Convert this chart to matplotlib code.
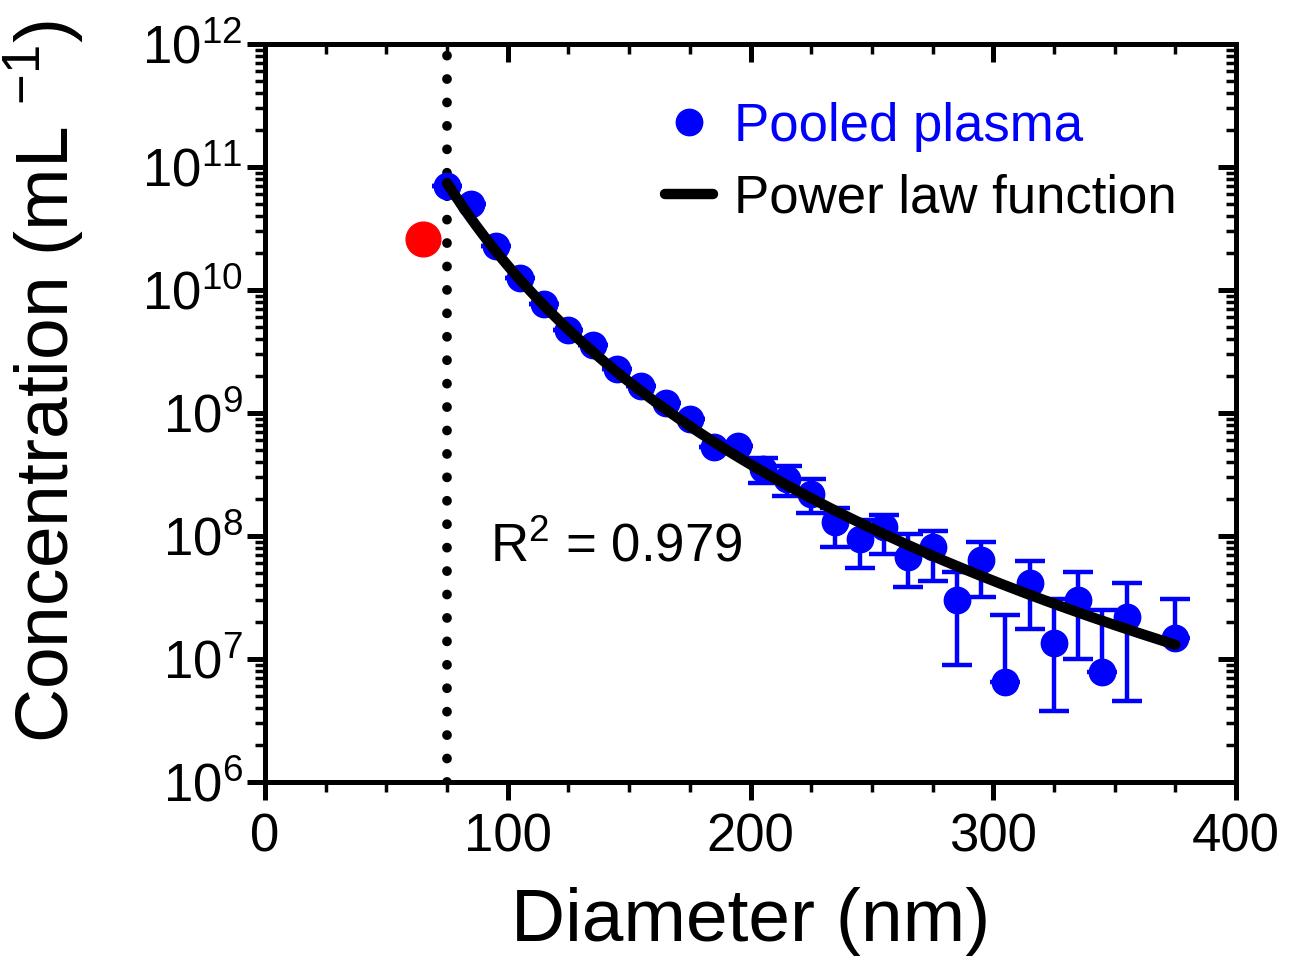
import matplotlib
matplotlib.use('Agg')
import matplotlib.pyplot as plt
import numpy as np
from matplotlib.lines import Line2D
from matplotlib.ticker import MultipleLocator, LogLocator, NullFormatter

plt.rcParams['font.family'] = ['Liberation Sans', 'DejaVu Sans']
plt.rcParams['mathtext.fontset'] = 'custom'
plt.rcParams['mathtext.rm'] = 'Liberation Sans'

# pooled plasma
diameter = [75, 85, 95, 105, 115, 125, 135, 145, 155, 165, 175, 185, 195, 205, 215,
            225, 235, 245, 255, 265, 275, 285, 295, 305, 315, 325, 335, 345, 355, 375]
conc = [7.0e10, 5.0e10, 2.3e10, 1.25e10, 7.7e9, 4.7e9, 3.6e9, 2.3e9, 1.66e9, 1.2e9,
        8.9e8, 5.3e8, 5.4e8, 3.5e8, 2.9e8, 2.2e8, 1.3e8, 9.5e7, 1.18e8, 6.7e7,
        8.15e7, 3.0e7, 6.4e7, 6.5e6, 4.15e7, 1.35e7, 3.0e7, 7.8e6, 2.2e7, 1.48e7]
nan = np.nan
conc_lo = [nan] * 13 + [2.7e8, 2.1e8, 1.54e8, 8.1e7, 5.5e7, 7.1e7, 3.85e7, 4.3e7,
                        8.9e6, 3.2e7, nan, 1.75e7, 3.8e6, 1.0e7, nan, 4.6e6, nan]
conc_hi = [nan] * 13 + [4.3e8, 3.7e8, 2.9e8, 1.69e8, 1.35e8, 1.48e8, 1.04e8, 1.1e8,
                        5.1e7, 8.9e7, 2.3e7, 6.3e7, 3.1e7, 5.1e7, 2.5e7, 4.15e7, 3.1e7]

# excluded point
red_x = [65]
red_y = [2.6e10]

# power law fit
fit_x0, fit_x1 = 75, 375
fit_y0 = 7.4e10
fit_exp = -5.37
cutoff = 75

c = np.array(conc)
lo = np.nan_to_num(np.array(conc_lo), nan=c)
hi = np.nan_to_num(np.array(conc_hi), nan=c)
yerr = [c - lo, hi - c]

fig = plt.figure(figsize=(13.05, 9.74), dpi=100)
ax = fig.add_axes([0.2031, 0.1971, 0.744, 0.7577])

ax.axvline(cutoff, color='black', lw=7, linestyle=(0, (0.01, 2.4)),
           dash_capstyle='round', zorder=2)
ax.errorbar(diameter, conc, yerr=yerr, fmt='o', color='#0000ff', ms=19,
            elinewidth=3.2, capsize=11, capthick=3.2, zorder=3)
ax.plot(red_x, red_y, 'o', color='#ff0000', ms=25, zorder=3)
xf = np.linspace(fit_x0, fit_x1, 200)
ax.plot(xf, fit_y0 * (xf / fit_x0) ** fit_exp, color='black', lw=7.5,
        solid_capstyle='round', zorder=4)

ax.set_yscale('log')
ax.set_xlim(0, 400)
ax.set_ylim(1e6, 1e12)
ax.xaxis.set_major_locator(MultipleLocator(100))
ax.xaxis.set_minor_locator(MultipleLocator(25))
ax.yaxis.set_major_locator(LogLocator(base=10, numticks=20))
ax.yaxis.set_minor_locator(LogLocator(base=10, subs=np.arange(2, 10), numticks=20))
ax.yaxis.set_minor_formatter(NullFormatter())

for s in ax.spines.values():
    s.set_linewidth(3.6)
ax.tick_params(which='major', direction='out', length=13, width=3.6, labelsize=38)
ax.tick_params(axis='x', which='major', pad=9)
ax.tick_params(axis='y', which='major', pad=3)
ax.tick_params(which='minor', direction='out', length=7, width=2.5)

top = ax.secondary_xaxis('top')
top.xaxis.set_major_locator(MultipleLocator(100))
top.xaxis.set_minor_locator(MultipleLocator(25))
top.tick_params(which='major', direction='in', length=13, width=3.6, labeltop=False)
top.tick_params(which='minor', direction='in', length=7, width=2.5)
top.spines['top'].set_linewidth(3.6)

right = ax.secondary_yaxis('right')
right.yaxis.set_major_locator(LogLocator(base=10, numticks=20))
right.yaxis.set_minor_locator(LogLocator(base=10, subs=np.arange(2, 10), numticks=20))
right.tick_params(which='major', direction='in', length=13, width=3.6, labelright=False)
right.tick_params(which='minor', direction='in', length=7, width=2.5)
right.yaxis.set_minor_formatter(NullFormatter())
right.spines['right'].set_linewidth(3.6)

ax.set_xlabel('Diameter (nm)', fontsize=54)
ax.xaxis.set_label_coords(0.5, -0.142)
ax.set_ylabel('Concentration (mL $^{-1}$)', fontsize=54)
ax.yaxis.set_label_coords(-0.182, 0.542)

ax.text(92.5, 6.2e7, r'R$^2$ = 0.979', fontsize=38, ha='left', va='baseline')

handles = [Line2D([], [], ls='none', marker='o', color='#0000ff', ms=19),
           Line2D([], [], color='black', lw=7.5, solid_capstyle='round')]
leg = ax.legend(handles, ['Pooled plasma', 'Power law function'], loc='upper left',
                bbox_to_anchor=(0.412, 0.922), frameon=False, fontsize=38,
                borderpad=0, borderaxespad=0, handlelength=0.9,
                handletextpad=0.4, labelspacing=0.42)
leg.get_texts()[0].set_color('#0000ff')

fig.savefig('out.png', dpi=100)
